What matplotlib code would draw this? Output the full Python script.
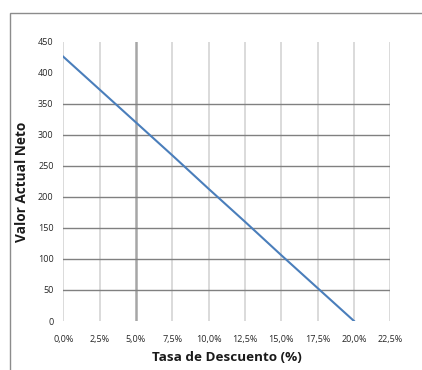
import matplotlib
matplotlib.use("Agg")
import matplotlib.pyplot as plt
from matplotlib.patches import Rectangle

# Discount rate (%) and net present value
tasas = [0.0, 2.5, 5.0, 7.5, 10.0, 12.5, 15.0, 17.5, 20.0]
van = [426, 373, 320, 267, 213, 160, 106, 53, 0]

x_ticks = [0.0, 2.5, 5.0, 7.5, 10.0, 12.5, 15.0, 17.5, 20.0, 22.5]
x_labels = ["0,0%", "2,5%", "5,0%", "7,5%", "10,0%", "12,5%", "15,0%",
            "17,5%", "20,0%", "22,5%"]
y_ticks = [0, 50, 100, 150, 200, 250, 300, 350, 400, 450]
y_grid = [50, 100, 150, 200, 250, 300, 350]

plt.rcParams["font.family"] = ["Open Sans", "DejaVu Sans"]

fig = plt.figure(figsize=(4.22, 3.70), dpi=100)
ax = fig.add_axes([0.150, 0.1324, 0.775, 0.7546])

# chart frame
fig.patches.append(Rectangle((10 / 422, -0.2), 1.2, 1.2 - 13 / 370,
                             transform=fig.transFigure, fill=False,
                             edgecolor="#8c8c8c", linewidth=1.0))

ax.set_xlim(0, 22.5)
ax.set_ylim(0, 450)

for xv in x_ticks:
    if xv == 5.0:
        ax.axvline(xv, color="#a6a6a6", linewidth=1.8, zorder=1)
    else:
        ax.axvline(xv, color="#dadada", linewidth=1.4, zorder=1)
for yv in y_grid:
    ax.axhline(yv, color="#808080", linewidth=1.0, zorder=2)

ax.plot(tasas, van, color="#4a7ebb", linewidth=1.5, zorder=3)

for s in ax.spines.values():
    s.set_visible(False)

ax.set_xticks(x_ticks)
ax.set_xticklabels(x_labels)
ax.set_yticks(y_ticks)
ax.tick_params(axis="both", length=0, labelsize=6.5, colors="#262626")
ax.tick_params(axis="x", pad=10)
ax.tick_params(axis="y", pad=7)

ax.set_xlabel("Tasa de Descuento (%)", fontsize=9.7, fontweight="bold",
              color="#1a1a1a", labelpad=5)
ax.set_ylabel("Valor Actual Neto", fontsize=9.8, fontweight="bold",
              color="#1a1a1a", labelpad=6)

fig.savefig("out.png", dpi=100)
